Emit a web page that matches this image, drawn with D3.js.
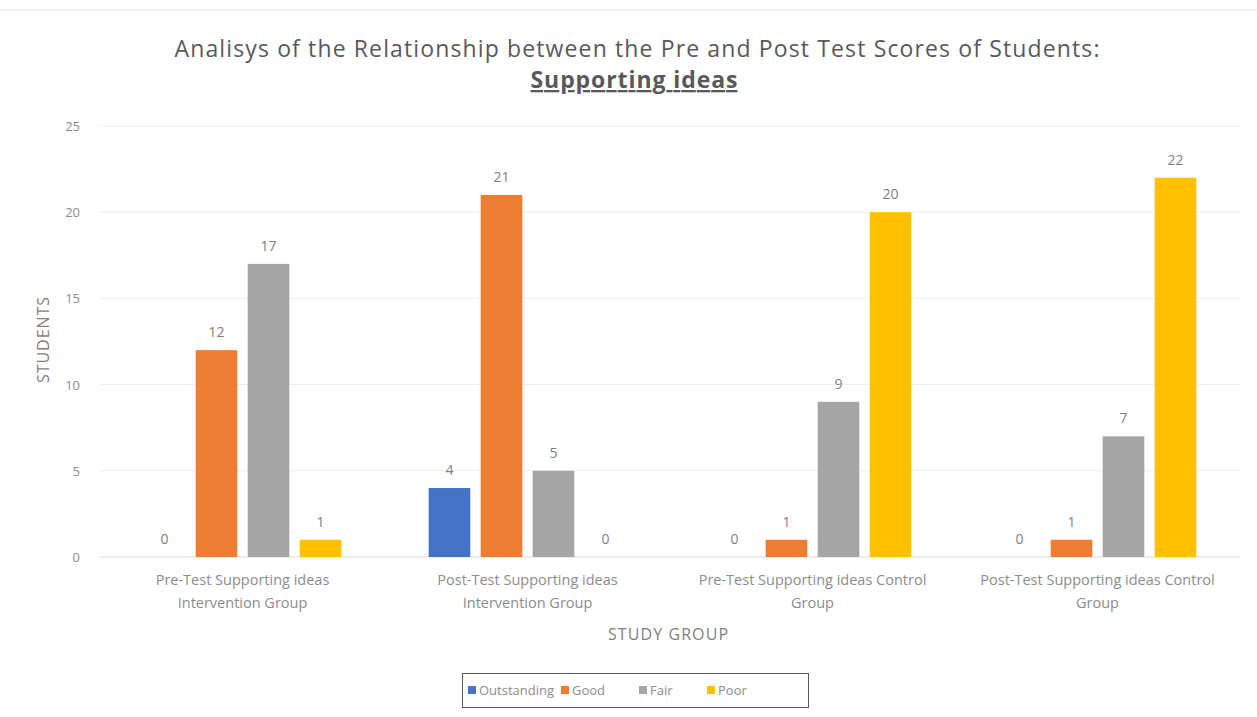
<!DOCTYPE html>
<html>
<head>
<meta charset="utf-8">
<script src="https://cdn.jsdelivr.net/npm/d3@7"></script>
<style>
  body { margin: 0; background: #fff; }
  text { font-family: "Open Sans", "Liberation Sans", sans-serif; }
</style>
</head>
<body>
<div id="chart"></div>
<script>
let groups = [
  ["Pre-Test Supporting ideas", "Intervention Group"],
  ["Post-Test Supporting ideas", "Intervention Group"],
  ["Pre-Test Supporting ideas Control", "Group"],
  ["Post-Test Supporting ideas Control", "Group"]
]
let series = ["Outstanding", "Good", "Fair", "Poor"]
let outstanding = [0, 4, 0, 0]
let good = [12, 21, 1, 1]
let fair = [17, 5, 9, 7]
let poor = [1, 0, 20, 22]
let yTicks = [0, 5, 10, 15, 20, 25]

let colors = ["#4472C4", "#ED7D31", "#A5A5A5", "#FFC000"]
let values = [outstanding, good, fair, poor]

var width = 1257, height = 717
var margin = {top: 126, right: 17, bottom: 160, left: 100}

var svg = d3.select("#chart").append("svg")
  .attr("width", width)
  .attr("height", height)

// outer border line at top
svg.append("line")
  .attr("x1", 0).attr("x2", width)
  .attr("y1", 10).attr("y2", 10)
  .attr("stroke", "#e4e4e4")

var x0 = d3.scaleBand()
  .domain(d3.range(groups.length))
  .range([margin.left, width - margin.right])
  .paddingInner(0.27)
  .paddingOuter(0.135)

var x1 = d3.scaleBand()
  .domain(series)
  .range([0, x0.bandwidth()])
  .paddingInner(0.2)
  .paddingOuter(0.1)

var y = d3.scaleLinear()
  .domain([0, 25])
  .range([height - margin.bottom, margin.top])

// gridlines
svg.append("g")
  .selectAll("line")
  .data(yTicks)
  .join("line")
  .attr("x1", margin.left)
  .attr("x2", width - margin.right)
  .attr("y1", d => y(d))
  .attr("y2", d => y(d))
  .attr("stroke", d => d == 0 ? "#d9d9d9" : "#ececec")
  .attr("stroke-width", 1)

// y tick labels
svg.append("g")
  .selectAll("text")
  .data(yTicks)
  .join("text")
  .attr("x", 80)
  .attr("y", d => y(d) + 5)
  .attr("text-anchor", "end")
  .attr("fill", "#8c8c8c")
  .style("font-size", "13px")
  .text(d => d)

// bars
let bars = svg.append("g")
for (let s = 0; s < series.length; s++) {
  for (let g = 0; g < groups.length; g++) {
    let v = values[s][g]
    let bx = x0(g) + x1(series[s])
    bars.append("rect")
      .attr("x", bx)
      .attr("y", y(v))
      .attr("width", x1.bandwidth())
      .attr("height", y(0) - y(v))
      .attr("fill", colors[s])
    bars.append("text")
      .attr("x", bx + x1.bandwidth() / 2)
      .attr("y", y(v) - 13)
      .attr("text-anchor", "middle")
      .attr("fill", "#7f7f7f")
      .style("font-size", "14px")
      .text(v)
  }
}

// x category labels
let xl = svg.append("g")
groups.forEach((lines, g) => {
  let t = xl.append("text")
    .attr("x", x0(g) + x0.bandwidth() / 2)
    .attr("y", 585)
    .attr("text-anchor", "middle")
    .attr("fill", "#8c8c8c")
    .style("font-size", "14.5px")
  lines.forEach((l, i) => {
    t.append("tspan")
      .attr("x", x0(g) + x0.bandwidth() / 2)
      .attr("dy", i == 0 ? 0 : 23)
      .text(l)
  })
})

// axis titles
svg.append("text")
  .attr("x", 668)
  .attr("y", 640)
  .attr("text-anchor", "middle")
  .attr("fill", "#7f7f7f")
  .style("font-size", "16px")
  .attr("textLength", 120)
  .text("STUDY GROUP")

svg.append("text")
  .attr("transform", "translate(49,340) rotate(-90)")
  .attr("text-anchor", "middle")
  .attr("fill", "#7f7f7f")
  .style("font-size", "16px")
  .attr("textLength", 86)
  .text("STUDENTS")

// title
svg.append("text")
  .attr("x", 637)
  .attr("y", 57)
  .attr("text-anchor", "middle")
  .attr("fill", "#595959")
  .style("font-size", "23px")
  .attr("textLength", 925)
  .attr("lengthAdjust", "spacing")
  .text("Analisys of the Relationship between the Pre and Post Test Scores of Students:")

svg.append("text")
  .attr("x", 634)
  .attr("y", 88)
  .attr("text-anchor", "middle")
  .attr("fill", "#595959")
  .style("font-size", "23px")
  .style("font-weight", "bold")
  .style("text-decoration", "underline")
  .attr("textLength", 207)
  .text("Supporting ideas")

// legend
let lg = svg.append("g")
lg.append("rect")
  .attr("x", 462.5).attr("y", 673.5)
  .attr("width", 346).attr("height", 34)
  .attr("fill", "none")
  .attr("stroke", "#595959")
  .attr("stroke-width", 1)

let legendX = [468, 561, 639, 707]
series.forEach((s, i) => {
  lg.append("rect")
    .attr("x", legendX[i]).attr("y", 686)
    .attr("width", 8).attr("height", 8)
    .attr("fill", colors[i])
  lg.append("text")
    .attr("x", legendX[i] + 11)
    .attr("y", 695)
    .attr("fill", "#8c8c8c")
    .style("font-size", "13px")
    .text(s)
})
</script>
</body>
</html>
